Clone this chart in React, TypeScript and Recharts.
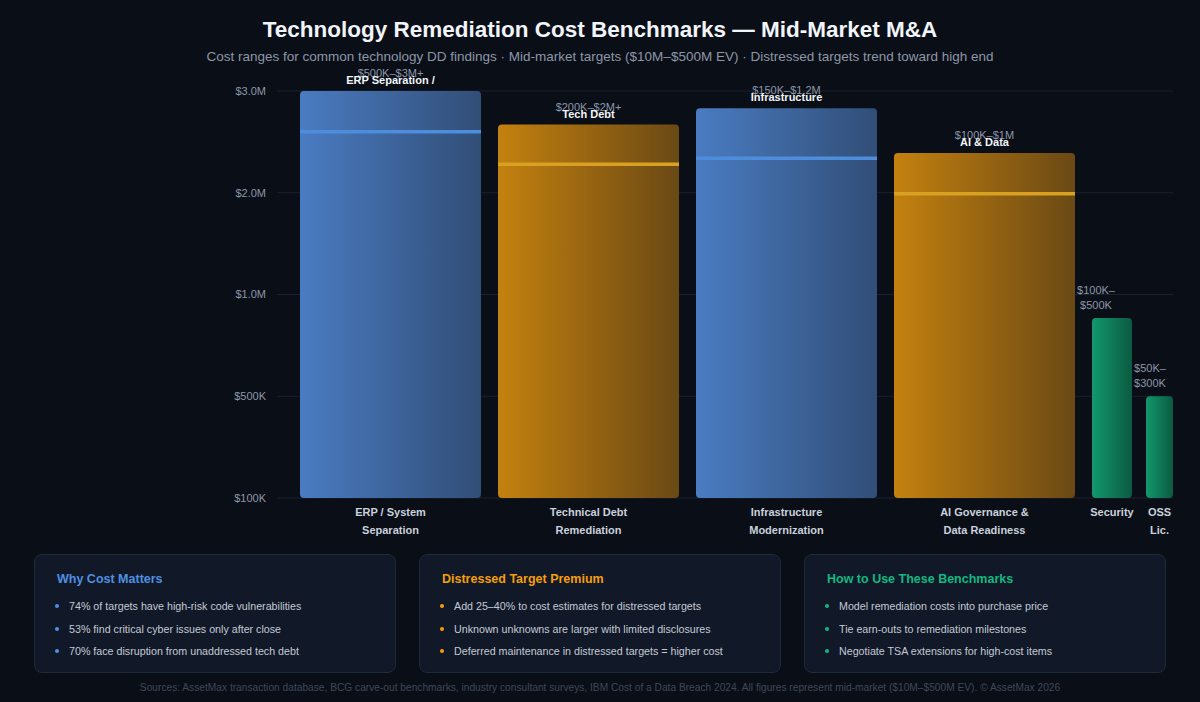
import React from 'react';
import {
  ComposedChart,
  XAxis,
  YAxis,
  CartesianGrid,
  ReferenceArea,
  ReferenceLine,
  Scatter,
  Rectangle,
} from 'recharts';

const FONT = '"Liberation Sans", Arial, Helvetica, sans-serif';

// Remediation categories and their axis labels
const categories = [
  'ERP / System Separation',
  'Technical Debt Remediation',
  'Infrastructure Modernization',
  'AI Governance & Data Readiness',
  'Security',
  'OSS Lic.',
];
const axisLabelLines = [
  ['ERP / System', 'Separation'],
  ['Technical Debt', 'Remediation'],
  ['Infrastructure', 'Modernization'],
  ['AI Governance &', 'Data Readiness'],
  ['Security'],
  ['OSS', 'Lic.'],
];
const shortNames = ['ERP Separation /', 'Tech Debt', 'Infrastructure', 'AI & Data', '', ''];
const rangeLabels = [
  ['$500K–$3M+'],
  ['$200K–$2M+'],
  ['$150K–$1.2M'],
  ['$100K–$1M'],
  ['$100K–', '$500K'],
  ['$50K–', '$300K'],
];

// Upper end of each range and the typical spend marker (USD)
const highValues = [3000000, 2670000, 2830000, 2390000, 885000, 500000];
const typicalValues = [2600000, 2280000, 2340000, 1990000, null, null];
const tiers = ['blue', 'amber', 'blue', 'amber', 'green', 'green'];

// Y axis breakpoints
const yTickValues = [100000, 500000, 1000000, 2000000, 3000000];
const yTickLabels = ['$100K', '$500K', '$1.0M', '$2.0M', '$3.0M'];

// Band layout along the x axis (wide columns for the big items)
const bandWidths = [181, 181, 181, 181, 40, 27];
const bandGaps = [23, 17, 17, 17, 17, 14];

const TIER = {
  blue: { from: '#4a7cc2', to: '#314e77', marker: '#4d8ddb' },
  amber: { from: '#c4810f', to: '#6a4915', marker: '#d9a122' },
  green: { from: '#12986d', to: '#0b5a42', marker: '#10b981' },
};

// piecewise axis: each breakpoint gets an equal step
const toIdx = (v: number) => {
  if (v <= yTickValues[0]) return 0;
  for (let i = 1; i < yTickValues.length; i++) {
    if (v <= yTickValues[i]) {
      const lo = yTickValues[i - 1];
      const hi = yTickValues[i];
      return i - 1 + (v - lo) / (hi - lo);
    }
  }
  return yTickValues.length - 1;
};

let cursor = 0;
const bars = categories.map((name, i) => {
  const x0 = cursor + bandGaps[i];
  const x1 = x0 + bandWidths[i];
  cursor = x1;
  return {
    name,
    x0,
    x1,
    center: (x0 + x1) / 2,
    width: bandWidths[i],
    top: toIdx(highValues[i]),
    typical: typicalValues[i] == null ? null : toIdx(typicalValues[i] as number),
    tier: tiers[i],
    range: rangeLabels[i],
    short: shortNames[i],
    lines: axisLabelLines[i],
  };
});
const X_MAX = cursor;

const cards = [
  {
    title: 'Why Cost Matters',
    color: '#4f8fe3',
    items: [
      '74% of targets have high-risk code vulnerabilities',
      '53% find critical cyber issues only after close',
      '70% face disruption from unaddressed tech debt',
    ],
  },
  {
    title: 'Distressed Target Premium',
    color: '#f59e0b',
    items: [
      'Add 25–40% to cost estimates for distressed targets',
      'Unknown unknowns are larger with limited disclosures',
      'Deferred maintenance in distressed targets = higher cost',
    ],
  },
  {
    title: 'How to Use These Benchmarks',
    color: '#10b981',
    items: [
      'Model remediation costs into purchase price',
      'Tie earn-outs to remediation milestones',
      'Negotiate TSA extensions for high-cost items',
    ],
  },
];

const XTick = (props: any) => {
  const { x, y, payload } = props;
  const bar = bars.find((b) => b.center === payload.value);
  if (!bar) return null;
  return (
    <g>
      {bar.lines.map((line, i) => (
        <text
          key={i}
          x={x}
          y={y + 16 + i * 18}
          textAnchor="middle"
          fontSize={11}
          fontWeight={700}
          fill="#c9d1dc"
          fontFamily={FONT}
        >
          {line}
        </text>
      ))}
    </g>
  );
};

// range + short name drawn above each column
const TopLabel = (props: any) => {
  const { cx, cy, payload } = props;
  if (cx == null || cy == null) return null;
  const narrow = payload.range.length > 1;
  const lx = narrow ? cx - payload.width / 2 + 4 : cx;
  return (
    <g fontFamily={FONT} fontSize={11}>
      {payload.range.map((t: string, i: number) => (
        <text
          key={i}
          x={lx}
          y={narrow ? cy - 24 + i * 15 : cy - 14}
          textAnchor="middle"
          fill="#8d97a8"
        >
          {t}
        </text>
      ))}
      {payload.short && (
        <text x={cx} y={cy - 7} textAnchor="middle" fill="#f1f5f9" fontWeight={700}>
          {payload.short}
        </text>
      )}
    </g>
  );
};

export default function App() {
  return (
    <div
      style={{
        position: 'fixed',
        left: 0,
        top: 0,
        width: 1200,
        height: 702,
        background: '#0a0e17',
        fontFamily: FONT,
        overflow: 'hidden',
      }}
    >
      <div
        style={{
          position: 'absolute',
          top: 17,
          width: '100%',
          textAlign: 'center',
          color: '#f1f5f9',
          fontSize: 22.5,
          fontWeight: 700,
        }}
      >
        Technology Remediation Cost Benchmarks — Mid-Market M&amp;A
      </div>
      <div
        style={{
          position: 'absolute',
          top: 49,
          width: '100%',
          textAlign: 'center',
          color: '#8d97a8',
          fontSize: 13.5,
        }}
      >
        Cost ranges for common technology DD findings · Mid-market targets ($10M–$500M EV) · Distressed targets trend toward high end
      </div>

      <div style={{ position: 'absolute', top: 50, left: 0 }}>
        <ComposedChart
          width={1200}
          height={500}
          data={bars}
          margin={{ top: 41, right: 27, bottom: 8, left: 217 }}
        >
          <defs>
            {Object.entries(TIER).map(([k, c]) => (
              <linearGradient key={k} id={`grad-${k}`} x1="0" y1="0" x2="1" y2="0">
                <stop offset="0%" stopColor={c.from} />
                <stop offset="100%" stopColor={c.to} />
              </linearGradient>
            ))}
          </defs>
          <CartesianGrid vertical={false} stroke="#1a2130" strokeWidth={1} />
          <XAxis
            type="number"
            dataKey="center"
            domain={[0, X_MAX]}
            ticks={bars.map((b) => b.center)}
            interval={0}
            tick={<XTick />}
            axisLine={false}
            tickLine={false}
            tickSize={0}
            height={44}
          />
          <YAxis
            type="number"
            domain={[0, yTickValues.length - 1]}
            ticks={yTickValues.map((_, i) => i)}
            tickFormatter={(v: number) => yTickLabels[v]}
            axisLine={false}
            tickLine={false}
            tickSize={0}
            tickMargin={11}
            width={60}
            tick={{ fill: '#8d97a8', fontSize: 11, fontFamily: FONT }}
          />
          {bars.map((b) => (
            <ReferenceArea
              key={b.name}
              x1={b.x0}
              x2={b.x1}
              y1={0}
              y2={b.top}
              ifOverflow="visible"
              shape={(p: any) => (
                <Rectangle
                  x={p.x}
                  y={p.y}
                  width={p.width}
                  height={p.height}
                  radius={4}
                  fill={`url(#grad-${b.tier})`}
                  fillOpacity={1}
                />
              )}
            />
          ))}
          {bars
            .filter((b) => b.typical != null)
            .map((b) => (
              <ReferenceLine
                key={`typ-${b.name}`}
                segment={[
                  { x: b.x0, y: b.typical as number },
                  { x: b.x1, y: b.typical as number },
                ]}
                stroke={TIER[b.tier as keyof typeof TIER].marker}
                strokeWidth={3.5}
                ifOverflow="visible"
              />
            ))}
          <Scatter
            dataKey="top"
            isAnimationActive={false}
            shape={<TopLabel />}
          />
        </ComposedChart>
      </div>

      {cards.map((card, ci) => (
        <div
          key={card.title}
          style={{
            position: 'absolute',
            left: 34 + ci * 385,
            top: 554,
            width: 362,
            height: 119,
            boxSizing: 'border-box',
            background: '#111827',
            border: '1px solid #1f2a3a',
            borderRadius: 8,
          }}
        >
          <div
            style={{
              position: 'absolute',
              left: 22,
              top: 17,
              fontSize: 12.5,
              fontWeight: 700,
              color: card.color,
            }}
          >
            {card.title}
          </div>
          {card.items.map((item, i) => (
            <div
              key={i}
              style={{
                position: 'absolute',
                left: 20,
                top: 45 + i * 22.5,
                fontSize: 10.7,
                color: '#c3cad5',
                display: 'flex',
                alignItems: 'center',
                whiteSpace: 'nowrap',
              }}
            >
              <span
                style={{
                  width: 4,
                  height: 4,
                  borderRadius: 2,
                  background: card.color,
                  marginRight: 10,
                  display: 'inline-block',
                }}
              />
              {item}
            </div>
          ))}
        </div>
      ))}

      <div
        style={{
          position: 'absolute',
          top: 682,
          width: '100%',
          textAlign: 'center',
          fontSize: 10.2,
          color: '#3f4859',
        }}
      >
        Sources: AssetMax transaction database, BCG carve-out benchmarks, industry consultant surveys, IBM Cost of a Data Breach 2024. All figures represent mid-market ($10M–$500M EV). © AssetMax 2026
      </div>
    </div>
  );
}
